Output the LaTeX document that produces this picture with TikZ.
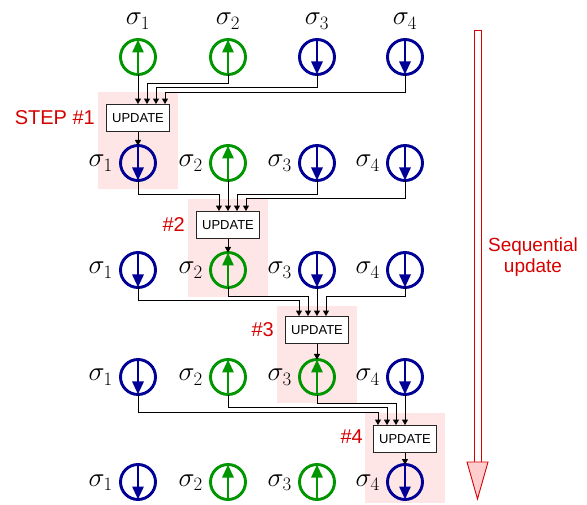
\RequirePackage{fix-cm}
\documentclass[tikz,border=0pt]{standalone}
\usepackage[no-math]{fontspec}
\newfontfamily\labelfont{Liberation Sans}
\usetikzlibrary{arrows.meta,calc}
\definecolor{upgreen}{RGB}{0,150,0}
\definecolor{downblue}{RGB}{0,0,150}
\definecolor{stepred}{RGB}{215,0,0}
\definecolor{steppink}{RGB}{255,230,230}
\definecolor{headpink}{RGB}{255,205,205}

% spin pointing up / down: #1 name, #2 x, #3 y
\newcommand\upspin[3]{%
  \node[spin,draw=upgreen] (#1) at (#2,#3) {};
  \draw[spinarrow,upgreen] (#1.south) -- (#1.north);}
\newcommand\downspin[3]{%
  \node[spin,draw=downblue] (#1) at (#2,#3) {};
  \draw[spinarrow,downblue] (#1.north) -- (#1.south);}
% elbow connector: #1 source spin, #2 level of the horizontal run, #3 box, #4 entry offset
\newcommand\route[4]{%
  \coordinate (lv) at (0,#2);
  \draw[conn] (#1.south) -- (#1.south |- lv) -| ([xshift=#4pt]#3.north);}

\begin{document}
\begin{tikzpicture}[x=1pt,y=-1pt,
  spin/.style={circle,line width=2.9pt,minimum size=35pt,inner sep=0pt,outer sep=0pt},
  spinarrow/.style={line width=2.9pt,-{Triangle[length=13pt,width=11pt]}},
  conn/.style={line width=0.95pt,-{Triangle[length=5.5pt,width=6pt]}},
  updatebox/.style={draw=black!85,fill=white,line width=0.9pt,minimum width=63pt,
    minimum height=27pt,inner sep=0pt,font=\labelfont\fontsize{13}{14}\selectfont},
  steplabel/.style={text=stepred,font=\labelfont\fontsize{20}{24}\selectfont,
    anchor=east,inner sep=0pt},
  siglabel/.style={inner sep=0pt,font=\fontsize{27}{30}\selectfont},
]
\useasboundingbox (0,0) rectangle (587,505);

% highlighted step columns
\fill[steppink] (98,92) rectangle (178,189);
\fill[steppink] (188,199) rectangle (268,297);
\fill[steppink] (277,306) rectangle (357,403);
\fill[steppink] (365,413) rectangle (445,503);

% row 1
\upspin{c11}{138}{57} \upspin{c12}{228}{57} \downspin{c13}{317}{57} \downspin{c14}{405}{57}
\node[siglabel,anchor=base] (l11) at (138,25) {$\sigma_1$};
\node[siglabel,anchor=base] (l12) at (228,25) {$\sigma_2$};
\node[siglabel,anchor=base] (l13) at (317,25) {$\sigma_3$};
\node[siglabel,anchor=base] (l14) at (405,25) {$\sigma_4$};

% rows 2 to 5
\downspin{c21}{138}{163} \upspin{c22}{228}{163} \downspin{c23}{317}{163} \downspin{c24}{405}{163}
\downspin{c31}{138}{270} \upspin{c32}{228}{270} \downspin{c33}{317}{270} \downspin{c34}{405}{270}
\downspin{c41}{138}{377} \upspin{c42}{228}{377} \upspin{c43}{317}{377} \downspin{c44}{405}{377}
\downspin{c51}{138}{482} \upspin{c52}{228}{482} \upspin{c53}{317}{482} \downspin{c54}{405}{482}

\foreach \r/\y in {2/163,3/270,4/377,5/482}{
  \foreach \c/\x in {1/138,2/228,3/317,4/405}{
    \node[siglabel,anchor=base east] (l\r\c) at (\x-25,\y+4) {$\sigma_{\c}$};
  }
}

% update boxes
\node[updatebox] (b1) at (138,118) {UPDATE};
\node[updatebox] (b2) at (228,225) {UPDATE};
\node[updatebox] (b3) at (317,330) {UPDATE};
\node[updatebox] (b4) at (405,439) {UPDATE};

% step labels
\node[steplabel] (s1) at (95,118) {STEP \#1};
\node[steplabel] (s2) at (185,225) {\#2};
\node[steplabel] (s3) at (274,330) {\#3};
\node[steplabel] (s4) at (363,437) {\#4};

% step 1
\draw[conn] (c11.south) -- (b1.north);
\route{c12}{83}{b1}{9}
\route{c13}{87.5}{b1}{18}
\route{c14}{92}{b1}{27}
\draw[conn] (b1.south) -- (c21.north);
% step 2
\route{c21}{194}{b2}{-9}
\draw[conn] (c22.south) -- (b2.north);
\route{c23}{194}{b2}{9}
\route{c24}{198}{b2}{18}
\draw[conn] (b2.south) -- (c32.north);
% step 3
\route{c31}{300.5}{b3}{-18}
\route{c32}{296}{b3}{-9}
\draw[conn] (c33.south) -- (b3.north);
\route{c34}{296}{b3}{9}
\draw[conn] (b3.south) -- (c43.north);
% step 4
\route{c41}{412}{b4}{-27}
\route{c42}{407.5}{b4}{-18}
\route{c43}{403}{b4}{-9}
\draw[conn] (c44.south) -- (b4.north);
\draw[conn] (b4.south) -- (c54.north);

% sequential-update arrow
\draw[stepred,line width=0.9pt,fill=white] (474,30) rectangle (481,462);
\draw[stepred,line width=0.9pt,fill=headpink,line join=miter]
  (467,462) -- (488,462) -- (477.5,499) -- cycle;
\node[text=stepred,font=\labelfont\fontsize{19}{21}\selectfont,align=center,inner sep=0pt]
  (seq) at (533,257) {Sequential\\update};
\end{tikzpicture}
\end{document}
